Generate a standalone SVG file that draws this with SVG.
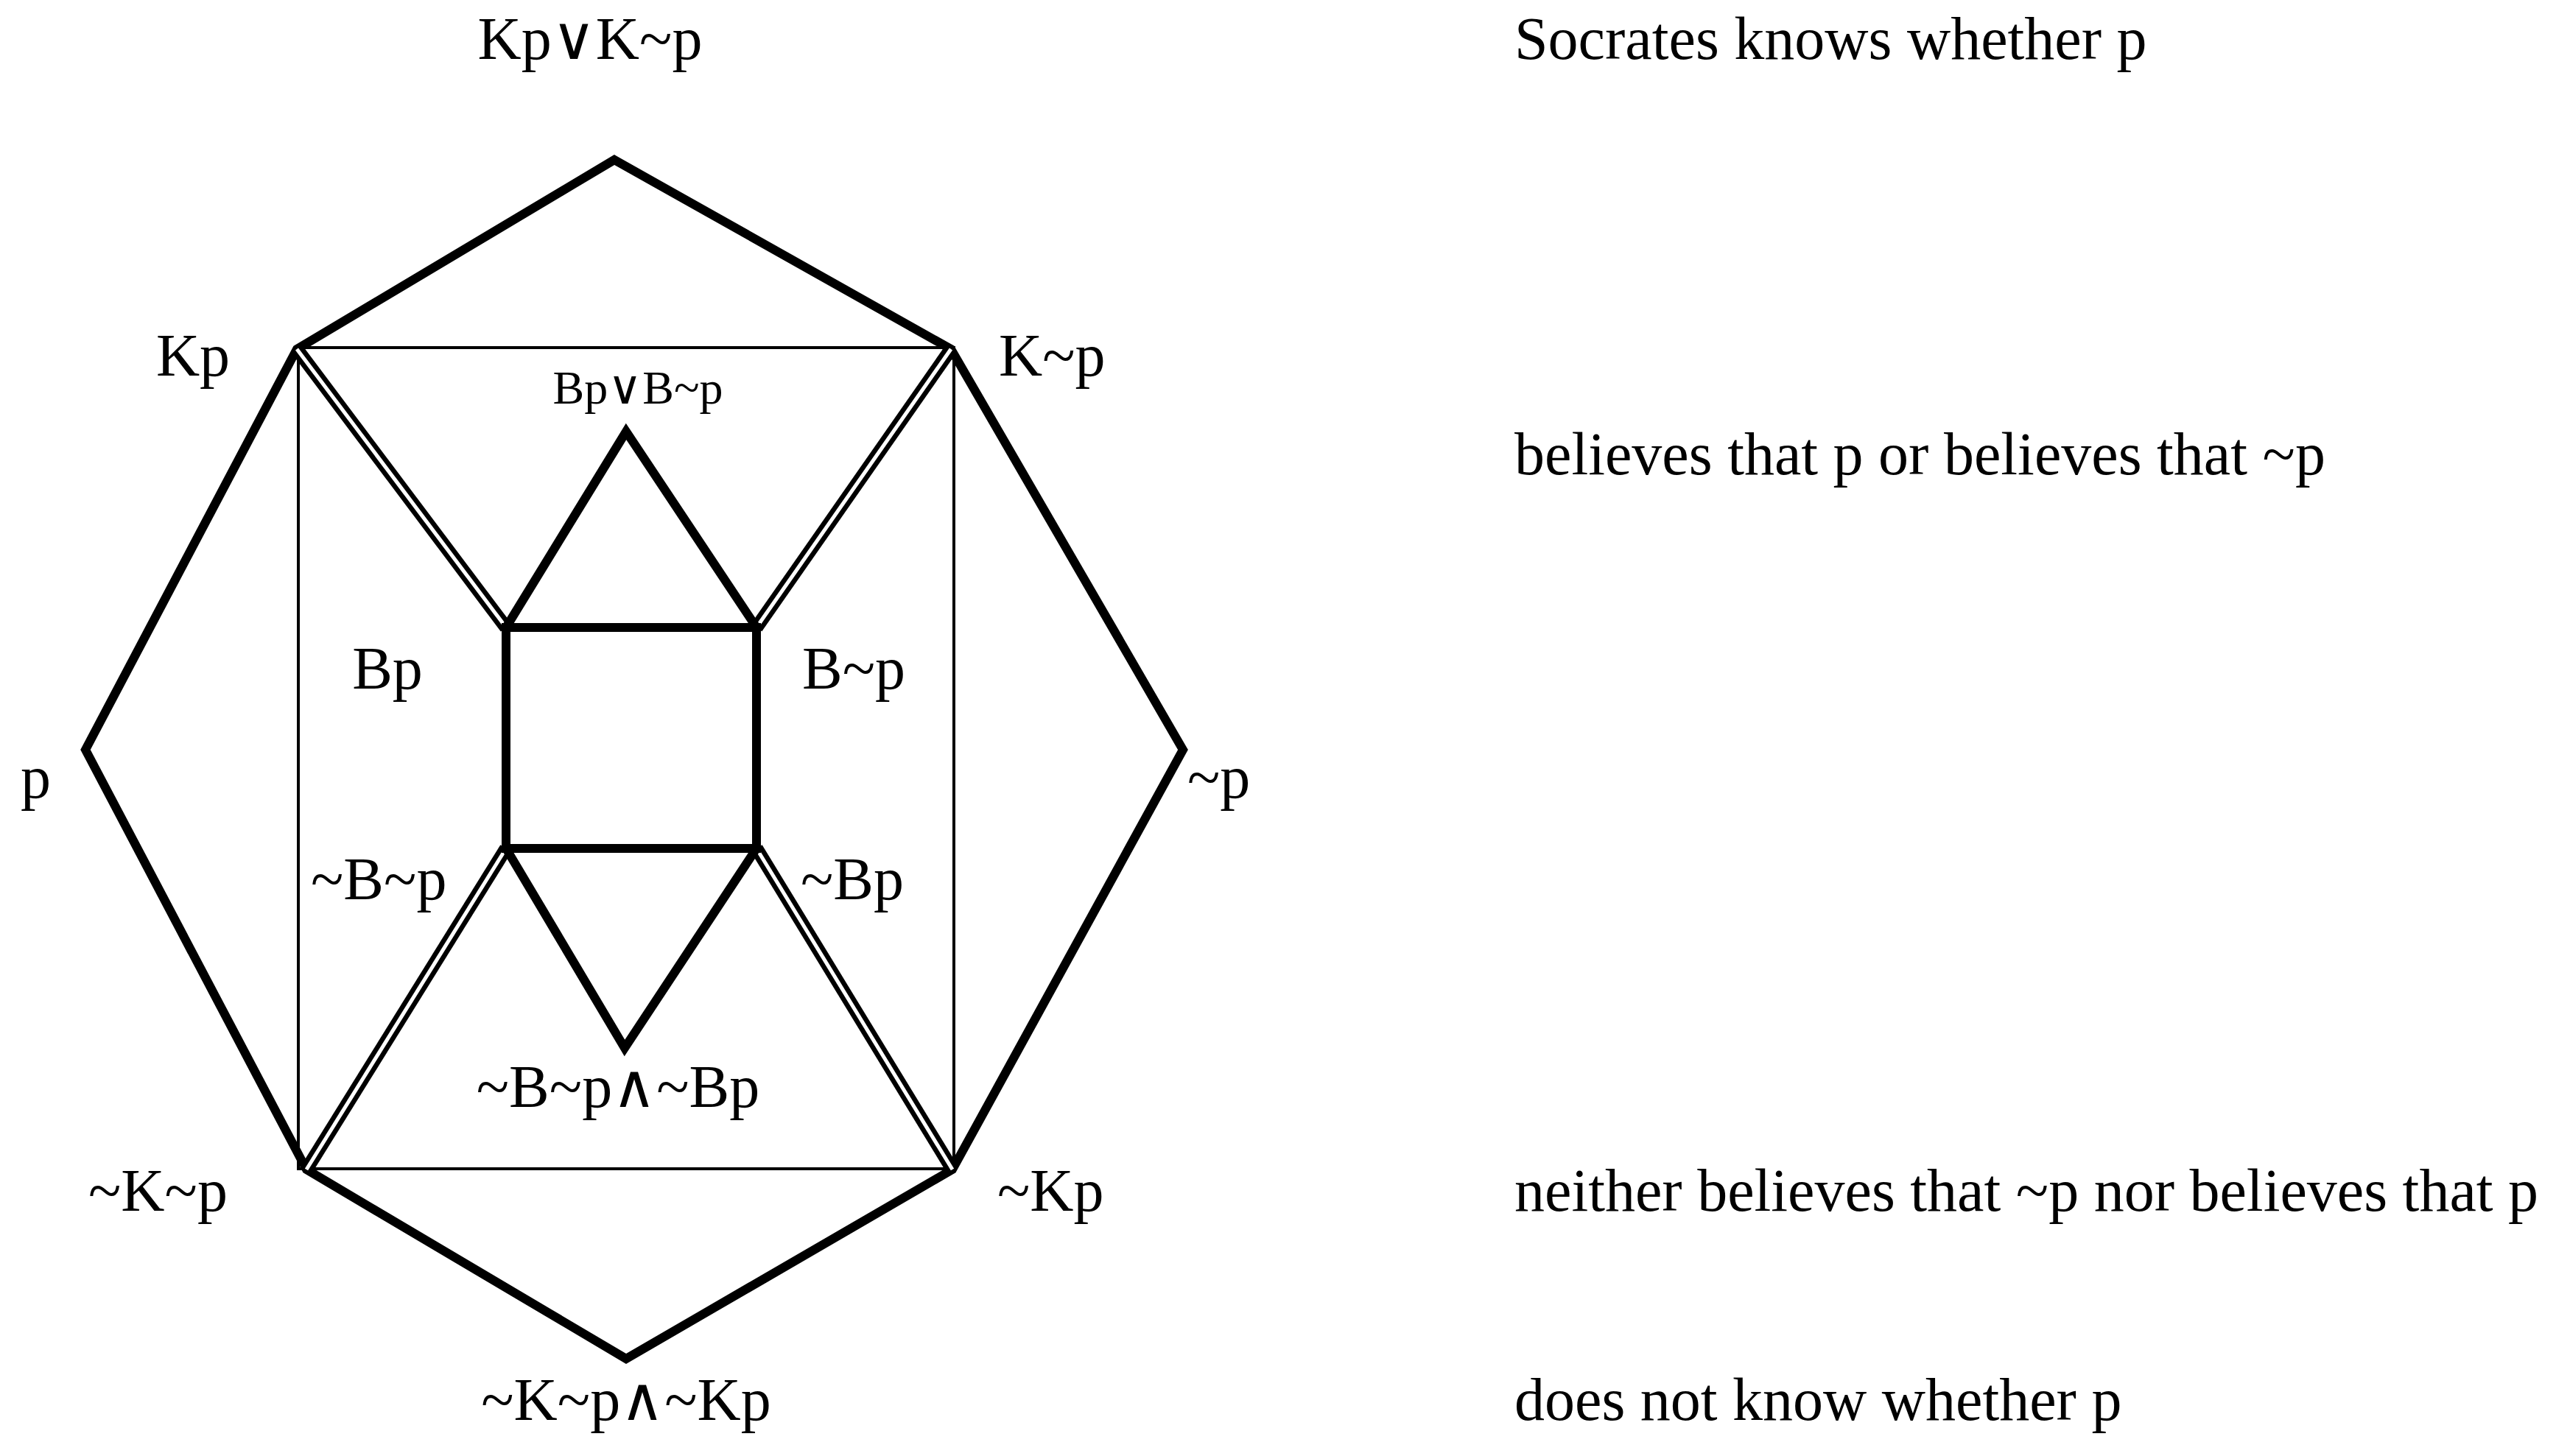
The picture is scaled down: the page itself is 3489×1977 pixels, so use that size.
<svg xmlns="http://www.w3.org/2000/svg" width="3489" height="1977" viewBox="0 0 3489 1977">
<style>
.thick{stroke:#000;stroke-width:12;fill:none;stroke-linejoin:miter}
.thin{stroke:#000;stroke-width:4;fill:none}
.dblo{stroke:#000;stroke-width:18}
.dbli{stroke:#fff;stroke-width:5}
text{font-family:"Liberation Serif","Times New Roman",serif;font-size:82px;fill:#000}
.m{text-anchor:middle}
</style>
<rect width="3489" height="1977" fill="#fff"/>
<g id="connectors">
<polygon class="thick" points="834,217 1291,474 1606,1018 1293,1588 850,1845 416,1588 116,1018 403,474"/>
<rect class="thin" x="405" y="472" width="890" height="1115"/>
<g class="dblo">
<line x1="403" y1="474" x2="687" y2="852"/><line x1="1291" y1="474" x2="1027" y2="852"/>
<line x1="416" y1="1588" x2="687" y2="1152"/><line x1="1293" y1="1588" x2="1027" y2="1152"/>
</g>
<g class="dbli">
<line x1="403" y1="474" x2="687" y2="852"/><line x1="1291" y1="474" x2="1027" y2="852"/>
<line x1="416" y1="1588" x2="687" y2="1152"/><line x1="1293" y1="1588" x2="1027" y2="1152"/>
</g>
<rect class="thick" x="687" y="852" width="340" height="300"/>
<polyline class="thick" points="687,852 850,586 1027,852"/>
<polyline class="thick" points="687,1152 848,1423 1027,1152"/>
</g>
<g id="n-top"><text class="m" x="801" y="80">Kp∨K~p</text></g>
<g id="n-kp"><text class="m" x="262" y="510">Kp</text></g>
<g id="n-knp"><text x="1356" y="510">K~p</text></g>
<g id="n-bb"><text class="m" x="866" y="548" style="font-size:64px">Bp∨B~p</text></g>
<g id="n-bp"><text class="m" x="526" y="935">Bp</text></g>
<g id="n-bnp"><text x="1089" y="935">B~p</text></g>
<g id="n-p"><text x="28" y="1083">p</text></g>
<g id="n-np"><text x="1612" y="1083">~p</text></g>
<g id="n-nbnp"><text x="422" y="1221">~B~p</text></g>
<g id="n-nbp"><text x="1087" y="1221">~Bp</text></g>
<g id="n-nb"><text class="m" x="839" y="1503">~B~p∧~Bp</text></g>
<g id="n-nknp"><text x="120" y="1644">~K~p</text></g>
<g id="n-nkp"><text x="1354" y="1644">~Kp</text></g>
<g id="n-bot"><text class="m" x="850" y="1928">~K~p∧~Kp</text></g>
<g id="desc">
<text x="2056" y="80">Socrates knows whether p</text>
<text x="2056" y="644">believes that p or believes that ~p</text>
<text x="2056" y="1644">neither believes that ~p nor believes that p</text>
<text x="2056" y="1928">does not know whether p</text>
</g>
</svg>
